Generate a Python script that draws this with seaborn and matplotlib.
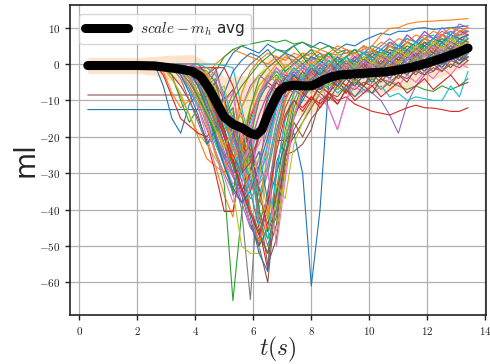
import numpy as np
import pandas as pd
import matplotlib
matplotlib.use("Agg")
import matplotlib.pyplot as plt
from matplotlib.ticker import FuncFormatter, MultipleLocator
import seaborn as sns

# sample times shared by every trace (s)
t = [0.3, 2.6, 2.9, 3.2, 3.5, 3.8, 4.1, 4.4, 4.7, 5.0, 5.3, 5.6, 5.9, 6.2, 6.5,
     6.8, 7.1, 7.4, 7.7, 8.0, 8.3, 8.6, 8.9, 9.2, 9.5, 9.8, 10.1, 10.4, 10.7,
     11.0, 11.3, 11.6, 11.9, 12.2, 12.5, 12.8, 13.1, 13.4]

# individual scale - m_h traces (ml)
r01 = [0, 0, -6, -15, -19, -11, -8, -10, -5, -1, 3, 5, 4, 3, 5.5, 4, 3.5, 5, 6, 4.5,
       6, 5, 4, 5.5, 5, 6.5, 7.5, 8.5, 8, 9, 9, 9.8, 10, 9.5, 9.8, 10, 10.2, 10.5]
r02 = [0, 0, -1, -4, -9, -14, -20, -26, -28, -36, -42, -25, -12, -6, -3, -5, -2, -6, -3, -1,
       -3, 0, -2, 1, -1.5, 2, 0, -1, 2, 3, 1, 4, 2.5, 5, 3, 6, 4, 6]
r03 = [0, 0, 0, 0, -1, -3, -8, -15, -24, -33, -65, -41, -20, -10, -5, -3, -6, -4, -8, -5,
       -7, -6, -4, -8, -5, -6, -4, -7, -5, -6, -7, -6, -7, -7.5, -6, -7, -6, -4]
r04 = [0, 0, -1, -3, -6, -10, -15, -21, -30, -40.5, -40.5, -27, -15, -8, -5, -7, -3, -4, -6, -2,
       -4, -1, -3, 0, -2, 1, 0, 2, 0, 3, 2, 4, 3, 5, 4, 6, 5, 7]
r05 = [0, 0, 0, 0, 0, -1, -4, -10, -17, -24, -30, -22, -14, -9, -6, -8, -5, -7, -4, -6,
       -5, -7, -4, -6, -5, -7, -8, -10, -14, -19, -11, -6, -3, -2, 0, 1, 2, 3]
r06 = [-8.5, -8.5, -8.5, -8.5, -8.5, -8.5, -8.5, -9, -14, -20, -27, -35, -44, -50, -60, -35, -25, -24, -22, -18,
       -10, -8, -9, -6, -7, -5, -6, -4, -5, -3, -4, -2, -3, -1, -2, 0, -1, 1]
r07 = [0, 0, 0, 0, -1, -3, -6, -12, -20, -27, -33, -30, -22, -14, -8, -4, -6, -3, -5, -2,
       -4, -12, -18, -10, -4, 5, 1, -1, 2, 0, 3, 1, 4, 2, 5, 3, 6, 5]
r08 = [0, 0, 0, 0, 0, -1, -3, -8, -15, -22, -30, -40, -64.7, -30, -12, -5, -2, 0, 2, 3,
       2, 3, 2.5, 3, 4, 3, 3.5, 3, 5, 4, 6, 5, 7, 6, 8, 7, 9, 9]
r09 = [0, 0, 0, 0, -1, -2, -4, -9, -16, -25, -35, -50, -52, -52, -20, -8, -4, -2, -4, -1,
       -3, 0, -2, 1, -1, 2, 0, 3, 1, 4, 2, 5, 3, 6, 4, 7, 5, 6]
r10 = [0, 0, 0, 0, 0, 0, 0, 0, 0, -0.4, -1, -12, -22, -30, -25, -12, -6, -3, -5, -2,
       -4, -1, -3, 0, -2, 1, -1, 2, 0, 3, 1, 4, 2, 4, 3, 5, 4, 5]
r11 = [-12.5, -12.5, -12.5, -12.5, -12.5, -12.5, -12.5, -12.5, -13, -18, -25, -32, -40, -50, -45, -21, -21, -19, -30, -61,
       -40, -5, -6, -3, -5, -2, -4, -1, -3, 0, -2, 1, -1, 2, 0, 3, 1, 2]
r12 = [0, 0, -2, -8, -12, -10, -6, -3, 0, 2, 4, 3, 2, 1, 3, 2, 1, 3, 2, 4,
       3, 2, 4, 3, 3, 4, 5, 8, 9.8, 10, 11, 11.5, 11.7, 11.8, 12, 12.1, 12.3, 12.5]
r13 = [0, 0, 0, -3, -10, -16, -12, -6, -2, 2, 4, 5, 5.5, 6, 6.5, 6, 6.6, 5.5, 6, 5,
       4, 5, 3, 4, 3, 5, 4, 3, 5, 4, 6, 5, 7, 6, 8, 7, 8, 9]
r14 = [0, 0, 0, 0, 0, -1, -2, -5, -10, -16, -22, -28, -35, -45, -56.5, -30, -15, -10, -12, -9,
       -11, -8, -10, -9, -11, -12, -13, -13.5, -14, -13, -12, -11.3, -12, -12.1, -12.5, -13, -13, -12]
r15 = [0, 0, 0, -1, -3, -7, -12, -18, -24, -30, -35, -38, -30, -20, -10, -4, -1, 1, -1, 2,
       0, 3, 1, 4, 2, 3, 5, 4, 6, 5, 7, 6, 8, 7, 9, 8, 10, 9]
r16 = [0, 0, 0, 0, 0, 0, -2, -6, -12, -20, -28, -36, -44, -50, -35, -22, -12, -7, -9, -6,
       -8, -5, -7, -4, -6, -3, -5, -2, -4, -1, -3, 0, -2, 1, -1, 2, 0, 2]
r17 = [0, 0, 0, 0, -2, -6, -12, -20, -28, -30, -26, -35, -44, -40, -25, -10, -5, -2, -4, -1,
       -3, 0, -2, 1, -1, 2, 0, 3, 1, 4, 2, 5, 3, 6, 4, 7, 5, 7]
r18 = [0, 0, 0, -1, -4, -10, -16, -22, -20, -25, -36, -30, -18, -10, -5, -2, -4, -1, -3, 0,
       -2, 1, -1, 2, 0, 3, 1, 4, 2, 5, 3, 6, 4, 7, 5, 8, 6, 8]
r19 = [0, 0, -1, -4, -8, -14, -19, -22, -26, -30, -28, -20, -12, -6, -3, -5, -2, -4, -1, -3,
       0, -2, 1, -1, 2, 0, 3, 1, 4, 2, 5, 3, 6, 4, 7, 5, 8, 7]
r20 = [0, 0, 0, 0, -1, -3, -8, -14, -20, -26, -30, -24, -16, -9, -4, -2, -5, -3, -6, -4,
       -7, -5, -8, -6, -9, -7, -8, -6, -9, -8, -10, -9, -9.5, -10, -10, -6, -9, -2]
r21 = [0, 0, 0, 0, 0, 0, -1, -4, -10, -18, -26, -34, -42, -52, -57, -27, -20, -14, -10, -6,
       -8, -5, -7, -4, -6, -3, -5, -2, -4, -1, -3, 0, -2, 1, -1, 2, 0, 3]
r22 = [0, 0, 0, 0, -1, -4, -9, -7, -16, -13, -24, -20, -33, -38, -28, -16, -8, -4, -6, -3,
       -5, -2, -4, -1, -3, 0, -2, 1, -1, 2, 0, 3, 1, 4, 2, 5, 3, 5]
r23 = [0, 0, 0, 0, 0, -2, -5, -10, -16, -22, -28, -34, -40, -46, -52, -35, -18, -8, -3, -5,
       -2, -4, -1, -3, 0, -2, 1, -1, 2, 0, 3, 1, 4, 2, 5, 3, 6, 4]
r24 = [0, 0, -3, -9, -15, -17, -19, -20, -17, -14, -18, -22, -26, -20, -12, -7, -9, -6, -8, -5,
       -7, -4, -6, -3, -5, -2, -4, -1, -3, 0, -2, 1, -1, 2, 0, 3, 1, 4]
r25 = [0, 0, 0, 0, 0, -1, -3, -7, -14, -22, -30, -38, -45, -48, -40, -20, -8, -3, -1, -3,
       0, -2, 1, -1, 2, 0, 3, 5, 7, 5, 8, 6, 9, 7, 10, 8, 11, 10]
r26 = [0, 0, 0, 0, 0, 0, 0, -3, -1, -10, -7, -24, -19, -40, -55, -48, -28, -18, -14, -10,
       -6, -8, -5, -7, -4, -6, -3, -5, -2, -4, -1, -3, 0, -2, 1, -1, 2, 1]
r27 = [0, 0, 0, 0, -1, -4, -9, -15, -21, -27, -31, -29, -26, -22, -16, -10, -6, -8, -5, -7,
       -9, -12, -18, -10, -6, -8, -5, -7, -4, -6, -3, -5, -2, -4, -1, -3, 0, -1]
r28 = [0, 0, 0, 0, 0, 0, -1, -3, -8, -14, -20, -26, -32, -38, -30, -18, -10, -5, -7, -4,
       -6, -3, -5, -2, -4, -1, -3, 0, -2, 1, -1, 2, 0, 3, 1, 4, 2, 5]
r29 = [0, 0, 0, 0, -1, -3, -2, -9, -6, -17, -13, -28, -23, -42, -46, -38, -20, -8, -3, -1,
       -3, 0, -2, 1, -1, 2, 0, 3, 1, 4, 2, 5, 3, 6, 4, 7, 5, 6]
r30 = [0, 0, 0, -1, -3, -7, -11, -16, -22, -28, -34, -30, -24, -18, -10, -4, -1, 1, -1, 2,
       0, 3, 1, 2, 4, 3, 5, 4, 6, 5, 7, 6, 7, 8, 6, 9, 7, 8]
r31 = [0, 0, 0, 0, 0, -2, -6, -4, -12, -9, -20, -17, -29, -24, -38, -30, -22, -15, -9, -5,
       -7, -4, -6, -3, -5, -2, -4, -1, -3, 0, -2, 1, -1, 2, 0, 3, 1, 3]
r32 = [0, 0, 0, -1, -3, -6, -10, -14, -18, -22, -26, -20, -14, -8, -3, 0, 2, 1, 3, 2,
       4, 3, 5, 4, 3, 5, 4, 6, 5, 7, 6, 8, 7, 9, 8, 10, 9, 10]
r33 = [0, 0, 0, 0, 0, -1, -5, -3, -11, -18, -14, -29, -25, -40, -48, -42, -25, -12, -6, -4,
       -2, -4, -1, -3, 0, -2, 1, -1, 2, 0, 3, 1, 4, 2, 5, 3, 6, 5]
r34 = [0, 0, 0, 0, -1, -1, -1, -1, -1, -1, -6, -14, -24, -34, -46, -40, -26, -14, -8, -10,
       -6, -8, -4, -6, -2, -4, 0, -2, 2, 0, 4, 2, 6, 4, 8, 6, 9, 8]
r35 = [0, 0, 0, 0, -2, -5, -9, -14, -19, -25, -31, -36, -33, -26, -18, -12, -6, -8, -4, -6,
       -2, -4, 0, -2, 2, 0, 4, 2, 6, 4, 8, 6, 9, 7, 8, 9, 8, 9]
r36 = [0, 0, 0, 0, 0, -2, -1, -7, -5, -15, -12, -26, -21, -36, -44, -36, -24, -20, -16, -12,
       -8, -10, -6, -8, -4, -6, -2, -4, 0, -2, 2, 0, 3, 1, 4, 2, 5, 4]
r37 = [0, 0, 0, 0, 0, 0, -2, -5, -10, -16, -22, -28, -34, -30, -22, -14, -6, -2, 0, -2,
       1, -1, 2, 0, 3, 1, 4, 2, 5, 3, 6, 4, 7, 5, 8, 6, 9, 7]
r38 = [0, 0, 0, 0, -1, -4, -2, -9, -7, -19, -15, -30, -26, -44, -36, -20, -10, -4, -6, -3,
       -5, -2, -4, -1, -3, 0, -2, 1, -1, 2, 0, 3, 1, 4, 2, 5, 3, 4]
r39 = [0, 0, 0, 0, 0, 0, -1, -3, -7, -12, -18, -24, -30, -36, -42, -46, -30, -14, -6, -8,
       -4, -6, -2, -4, 0, -2, 1, -1, 2, 0, 3, 1, 4, 2, 5, 3, 6, 5]
r40 = [0, 0, 0, 0, -1, -2, -4, -7, -11, -16, -21, -26, -31, -36, -28, -16, -7, -3, -5, -2,
       -4, -1, -3, 0, -2, 1, -1, 2, 0, 3, 1, 4, 2, 5, 3, 6, 4, 5]
r41 = [0, 0, 0, -1, -3, -8, -14, -22, -18, -8, -2, 1, 3, 2, 4, 1, 3, 2, 0, 2,
       1, -1, 2, 0, 1, 3, 2, 4, 3, 5, 4, 6, 5, 7, 6, 8, 7, 8]
r42 = [0, 0, 0, 0, -1, -4, -10, -17, -25, -30, -20, -8, -2, 1, 0, 2, -1, 1, 3, 0,
       2, 1, -1, 2, 3, 1, 4, 2, 5, 3, 6, 4, 7, 6, 8, 7, 9, 10]
r43 = [0, 0, 0, 0, 0, -2, -6, -13, -21, -28, -35, -24, -12, -4, -1, 1, -2, 0, 2, -1,
       1, 3, 0, 2, -1, 1, 0, 2, 1, 3, 2, 4, 5, 3, 6, 4, 7, 6]
r44 = [0, 0, 0, 0, 0, -1, -3, -6, -11, -18, -26, -35, -30, -18, -9, -5, -8, -3, -6, -2,
       -5, -3, -1, -4, -2, 0, -3, -1, 1, -2, 0, 2, 1, 3, 2, 4, 3, 5]
r45 = [0, 0, 0, 0, -1, -2, -5, -11, -19, -26, -20, -12, -6, -3, -5, -1, -4, -2, 0, -3,
       -1, 1, -2, 0, 2, -1, 1, 3, 0, 2, 4, 1, 3, 5, 2, 4, 6, 5]
r46 = [0, 0, 0, 0, 0, 0, -1, -2, -5, -10, -18, -28, -40, -47, -52, -44, -26, -16, -20, -15,
       -12, -9, -11, -7, -9, -6, -8, -4, -6, -3, -5, -1, -3, 0, -2, 1, 0, 2]
r47 = [0, 0, 0, 0, -1, -3, -8, -16, -24, -31, -38, -34, -18, -8, -4, -1, -3, 0, -2, 1,
       -1, 2, 0, -2, 1, 3, 0, 2, 4, 1, 3, 5, 2, 4, 6, 3, 5, 7]
r48 = [0, 0, 0, -1, -2, -5, -9, -13, -17, -14, -8, -3, 0, 2, -1, 1, 3, 0, 2, 1,
       3, 0, 2, -1, 1, 3, 2, 0, 3, 1, 4, 2, 5, 3, 6, 4, 7, 6]
r49 = [0, 0, 0, 0, 0, -1, -3, -2, -8, -6, -17, -14, -30, -26, -42, -33, -37, -22, -16, -11,
       -8, -5, -7, -3, -5, -2, -4, 0, -2, 1, -1, 2, 0, 3, 1, 4, 2, 3]
r50 = [0, 0, 0, 0, 0, 0, 0, -1, -3, -8, -15, -24, -35, -44, -48, -30, -15, -8, -4, -6,
       -2, -5, -1, -3, 0, -4, -1, -2, 1, -1, 2, 0, 3, 1, 2, 4, 3, 4]
r51 = [0, 0, 0, 0, -1, -2, -6, -12, -20, -28, -34, -38, -35, -28, -20, -12, -6, -3, -5, -1,
       -3, 0, -2, -4, -1, -3, 0, -2, 1, -1, 2, 0, 1, 3, 2, 4, 3, 4]
r52 = [0, 0, 0, 0, 0, -1, -5, -3, -13, -10, -26, -21, -40, -49, -42, -22, -10, -4, -6, -2,
       -4, 0, -3, -1, 1, -2, 0, 2, -1, 1, 3, 0, 2, 4, 1, 3, 5, 4]
r53 = [0, 0, 0, 0, -1, -4, -9, -14, -19, -15, -10, -6, -3, 0, 2, 4, 3, 5, 2, 4,
       1, 3, 0, 2, 4, 1, 3, 2, 4, 3, 5, 4, 6, 5, 7, 6, 5, 7]
r54 = [0, 0, 0, 0, 0, -1, -3, -7, -13, -20, -27, -34, -41, -47, -38, -24, -14, -10, -13, -9,
       -12, -8, -11, -7, -10, -8, -6, -9, -7, -5, -8, -6, -4, -7, -5, -3, -6, -5]
r55 = [0, 0, 0, 0, 0, 0, -2, -5, -9, -14, -20, -26, -22, -14, -8, -4, -7, -2, -5, -1,
       -4, -2, 0, -3, -1, 1, -2, 0, 2, -1, 1, 3, 0, 2, 4, 1, 3, 2]
r56 = [0, 0, 0, 0, -1, -2, -4, -8, -13, -19, -25, -30, -27, -20, -13, -8, -4, -6, -2, -5,
       -1, -3, 0, -2, 1, -1, 2, 0, 3, 1, 4, 2, 5, 3, 6, 4, 7, 6]
r57 = [0, 0, 0, 0, 0, 0, -1, -4, -2, -10, -8, -21, -17, -33, -29, -50, -32, -15, -7, -3,
       -5, -1, -3, 0, -2, 1, -1, 2, 0, 3, 1, 4, 2, 5, 3, 6, 4, 6]
r58 = [0, 0, 0, 0, 0, -2, -1, -6, -4, -15, -12, -28, -24, -42, -50, -40, -22, -10, -5, -2,
       0, -3, -1, 1, -2, 0, 2, -1, 1, 3, 0, 2, 4, 1, 3, 5, 2, 4]
r59 = [0, 0, 0, -1, -2, -4, -8, -13, -18, -23, -18, -12, -7, -3, -1, -4, 0, -2, 1, -1,
       2, 0, 3, 1, -1, 2, 0, 3, 1, 4, 2, 5, 3, 6, 4, 7, 5, 6]
r60 = [0, 0, 0, 0, 0, -1, -2, -5, -10, -16, -23, -30, -37, -33, -22, -12, -5, -1, -4, 0,
       -2, 1, -1, 2, 0, 3, 1, 4, 2, 5, 3, 6, 4, 7, 5, 8, 6, 7]

traces = [r01, r02, r03, r04, r05, r06, r07, r08, r09, r10,
          r11, r12, r13, r14, r15, r16, r17, r18, r19, r20,
          r21, r22, r23, r24, r25, r26, r27, r28, r29, r30,
          r31, r32, r33, r34, r35, r36, r37, r38, r39, r40,
          r41, r42, r43, r44, r45, r46, r47, r48, r49, r50,
          r51, r52, r53, r54, r55, r56, r57, r58, r59, r60]

# ensemble average and its spread
avg_t = [0.3, 1.0, 2.0, 2.6, 3.0, 3.5, 3.9, 4.2, 4.5, 4.8, 5.0, 5.3, 5.6, 5.9, 6.1,
         6.3, 6.5, 6.7, 6.9, 7.1, 7.4, 7.7, 8.0, 8.2, 8.4, 8.7, 9.0, 9.5, 10.0,
         10.5, 11.0, 11.5, 12.0, 12.5, 13.0, 13.4]
avg_v = [-0.4, -0.4, -0.4, -0.5, -0.9, -1.4, -2.0, -3.5, -7.0, -11.5, -14.5, -16.5, -17.5,
         -19.0, -19.5, -18.0, -14.0, -10.5, -7.5, -6.2, -5.8, -6.0, -6.0, -5.3, -4.4, -3.5,
         -3.0, -2.7, -2.4, -2.2, -1.6, -0.8, 0.3, 1.6, 3.0, 4.4]
avg_sd = [2.2, 2.2, 2.2, 2.6, 3.3, 3.9, 4.6, 5.0, 7.0, 9.5, 11.0, 13.0, 14.5, 15.5, 16.0,
          17.0, 16.0, 13.0, 10.0, 9.0, 8.5, 8.0, 7.5, 7.0, 6.5, 6.0, 5.5, 5.5, 5.5,
          5.5, 5.5, 5.3, 5.0, 5.0, 4.8, 4.8]

sns.set_style("ticks", {"axes.grid": True, "grid.color": "#b0b0b0",
                        "axes.edgecolor": "black"})
plt.rcParams["font.family"] = ["DejaVu Sans"]
plt.rcParams["mathtext.fontset"] = "cm"

long = pd.DataFrame({
    "t": np.tile(t, len(traces)),
    "v": np.concatenate(traces),
    "run": np.repeat(np.arange(len(traces)), len(t)),
})
palette = sns.color_palette("tab10", 10) * (len(traces) // 10)

fig, ax = plt.subplots(figsize=(4.9, 3.64), dpi=100)
fig.subplots_adjust(left=0.143, right=0.992, top=0.987, bottom=0.135)

avg_v_a = np.array(avg_v)
avg_sd_a = np.array(avg_sd)
ax.fill_between(avg_t, avg_v_a - avg_sd_a, avg_v_a + avg_sd_a,
                color="#ff7f0e", alpha=0.22, lw=0, zorder=1)

sns.lineplot(data=long, x="t", y="v", hue="run", palette=palette,
             estimator=None, errorbar=None, legend=False, lw=0.8, ax=ax, zorder=2)
sns.lineplot(x=avg_t, y=avg_v, color="black", lw=6.5, ax=ax, zorder=3,
             label=r"$scale - m_h$ avg")

ax.set_xlim(-0.31, 14.02)
ax.set_ylim(-68.9, 16.3)
ax.xaxis.set_major_locator(MultipleLocator(2))
ax.yaxis.set_major_locator(MultipleLocator(10))
fmt = FuncFormatter(lambda v, _: f"${v:.0f}$")
ax.xaxis.set_major_formatter(fmt)
ax.yaxis.set_major_formatter(fmt)
ax.tick_params(labelsize=8, length=3.5, width=1, colors="#222222")
ax.grid(True, color="#b0b0b0", lw=0.9)
for s in ax.spines.values():
    s.set_linewidth(1.2)
    s.set_color("#222222")

ax.set_xlabel(r"$t(s)$", fontsize=17, labelpad=-1)
ax.set_ylabel("ml", fontsize=20, labelpad=0)

ax.legend(loc="upper left", fontsize=11, handlelength=2.8, borderaxespad=0.6,
          framealpha=0.8)

fig.savefig("out.png", dpi=100)
